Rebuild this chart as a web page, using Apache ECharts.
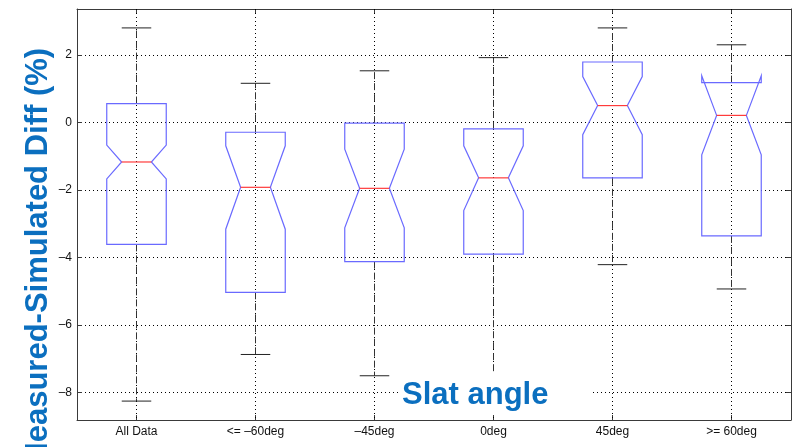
<!DOCTYPE html>
<html><head><meta charset="utf-8">
<script src="https://cdn.jsdelivr.net/npm/echarts@6/dist/echarts.min.js"></script>
<style>html,body{margin:0;padding:0;background:#fff}#c{width:798px;height:447px}</style>
</head><body><div id="c"></div>
<script>
const categories = ['All Data', '<= \u201360deg', '\u201345deg', '0deg', '45deg', '>= 60deg'];
const lowerWhisker = [-8.25, -6.87, -7.50, -8.10, -4.21, -4.93];
const q1           = [-3.61, -5.03, -4.12, -3.90, -1.64, -3.36];
const notchLow     = [-1.67, -3.16, -3.12, -2.61, -0.36, -0.96];
const median       = [-1.17, -1.92, -1.95, -1.64,  0.50,  0.21];
const notchHigh    = [-0.67, -0.69, -0.79, -0.69,  1.36,  1.38];
const q3           = [ 0.56, -0.29, -0.02, -0.19,  1.79,  1.18];
const upperWhisker = [ 2.80,  1.16,  1.53,  1.92,  2.80,  2.30];
const yTickLabels = [-8, -6, -4, -2, 0, 2];
const yMin = -8.81, yMax = 3.36;

const FONT = '"Liberation Sans", Arial, sans-serif';
const BLUE = '#6a6aff', RED = '#ff3b3b', INK = '#222';

const data = categories.map((c, i) => [i, lowerWhisker[i], q1[i], notchLow[i], median[i], notchHigh[i], q3[i], upperWhisker[i]]);

function renderItem(params, api) {
  const x = api.value(0);
  const bw = api.size([1, 0])[0];
  const w = bw * 0.25, nw = bw * 0.125, cw = bw * 0.124;
  const P = (dx, v) => { const c = api.coord([x, v]); return [c[0] + dx, c[1]]; };
  const lw = api.value(1), b1 = api.value(2), nl = api.value(3), md = api.value(4),
        nh = api.value(5), b3 = api.value(6), uw = api.value(7);
  const line = (a, b, style) => ({ type: 'line', shape: { x1: a[0], y1: a[1], x2: b[0], y2: b[1] }, style });
  const grid = { stroke: '#000', lineWidth: 1, lineDash: [1, 3] };
  const whisk = { stroke: '#333', lineWidth: 1, lineDash: [7, 4] };
  const cap = { stroke: INK, lineWidth: 1 };
  const pts = [P(-w, b1), P(-w, nl), P(-nw, md), P(-w, nh), P(-w, b3), P(w, b3), P(w, nh), P(nw, md), P(w, nl), P(w, b1)];
  return { type: 'group', children: [
    line(P(0, yMax), P(0, yMin), grid),
    line(P(0, b3), P(0, uw), whisk),
    line(P(0, b1), P(0, lw), whisk),
    line(P(-cw, uw), P(cw, uw), cap),
    line(P(-cw, lw), P(cw, lw), cap),
    { type: 'polygon', shape: { points: pts }, style: { fill: 'none', stroke: BLUE, lineWidth: 1.2 } },
    line(P(-nw, md), P(nw, md), { stroke: RED, lineWidth: 1.2 })
  ]};
}

const fmt = v => yTickLabels.indexOf(Math.round(v * 1000) / 1000) >= 0 ? String(v).replace('-', '\u2013') : '';
const axisCol = '#3a3a3a';

const chart = echarts.init(document.getElementById('c'), null, { renderer: 'canvas' });
chart.setOption({
  animation: false,
  backgroundColor: '#fff',
  grid: { left: 77, right: 7, top: 9, bottom: 27, show: false },
  xAxis: [{
    type: 'category', data: categories, position: 'bottom',
    axisLine: { show: true, onZero: false, lineStyle: { color: axisCol, width: 1 } },
    axisTick: { show: true, inside: true, alignWithLabel: true, length: 5, lineStyle: { color: axisCol } },
    axisLabel: { color: '#111', fontSize: 12, fontFamily: FONT, margin: 6, interval: 0 },
    splitLine: { show: false }
  }, {
    type: 'category', data: categories, position: 'top',
    axisLine: { show: true, onZero: false, lineStyle: { color: axisCol, width: 1 } },
    axisTick: { show: true, inside: true, alignWithLabel: true, length: 5, lineStyle: { color: axisCol } },
    axisLabel: { show: false }, splitLine: { show: false }
  }],
  yAxis: [{
    type: 'value', min: yMin, max: yMax, splitNumber: 6,
    axisLine: { show: true, onZero: false, lineStyle: { color: axisCol, width: 1 } },
    axisTick: { show: true, inside: true, length: 5, lineStyle: { color: axisCol } },
    axisLabel: { color: '#111', fontSize: 12, fontFamily: FONT, margin: 5, formatter: fmt, showMinLabel: false, showMaxLabel: false },
    splitLine: { show: true, lineStyle: { color: '#000', width: 1, type: [1, 3] } }
  }, {
    type: 'value', min: yMin, max: yMax, splitNumber: 6, position: 'right',
    axisLine: { show: true, onZero: false, lineStyle: { color: axisCol, width: 1 } },
    axisTick: { show: true, inside: true, length: 5, lineStyle: { color: axisCol } },
    axisLabel: { show: false }, splitLine: { show: false }
  }],
  series: [{
    type: 'custom', renderItem, data, xAxisIndex: 0, yAxisIndex: 0,
    encode: { x: 0, y: [1, 2, 3, 4, 5, 6, 7] }, clip: false, z: 3
  }],
  graphic: [
    { type: 'rect', shape: { x: 399, y: 372, width: 194, height: 43 }, style: { fill: '#fff' }, z: 100 },
    { type: 'text', x: 402, y: 395, z: 101,
      style: { text: 'Slat angle', font: 'bold 31px "Liberation Sans", Arial, sans-serif', fill: '#0B6FBF', textVerticalAlign: 'middle', textAlign: 'left' } },
    { type: 'text', x: 38, y: 258, rotation: Math.PI / 2, z: 101,
      style: { text: 'Measured-Simulated Diff (%)', font: 'bold 31px "Liberation Sans", Arial, sans-serif', fill: '#0B6FBF', textVerticalAlign: 'middle', textAlign: 'center' } }
  ]
});
</script></body></html>
